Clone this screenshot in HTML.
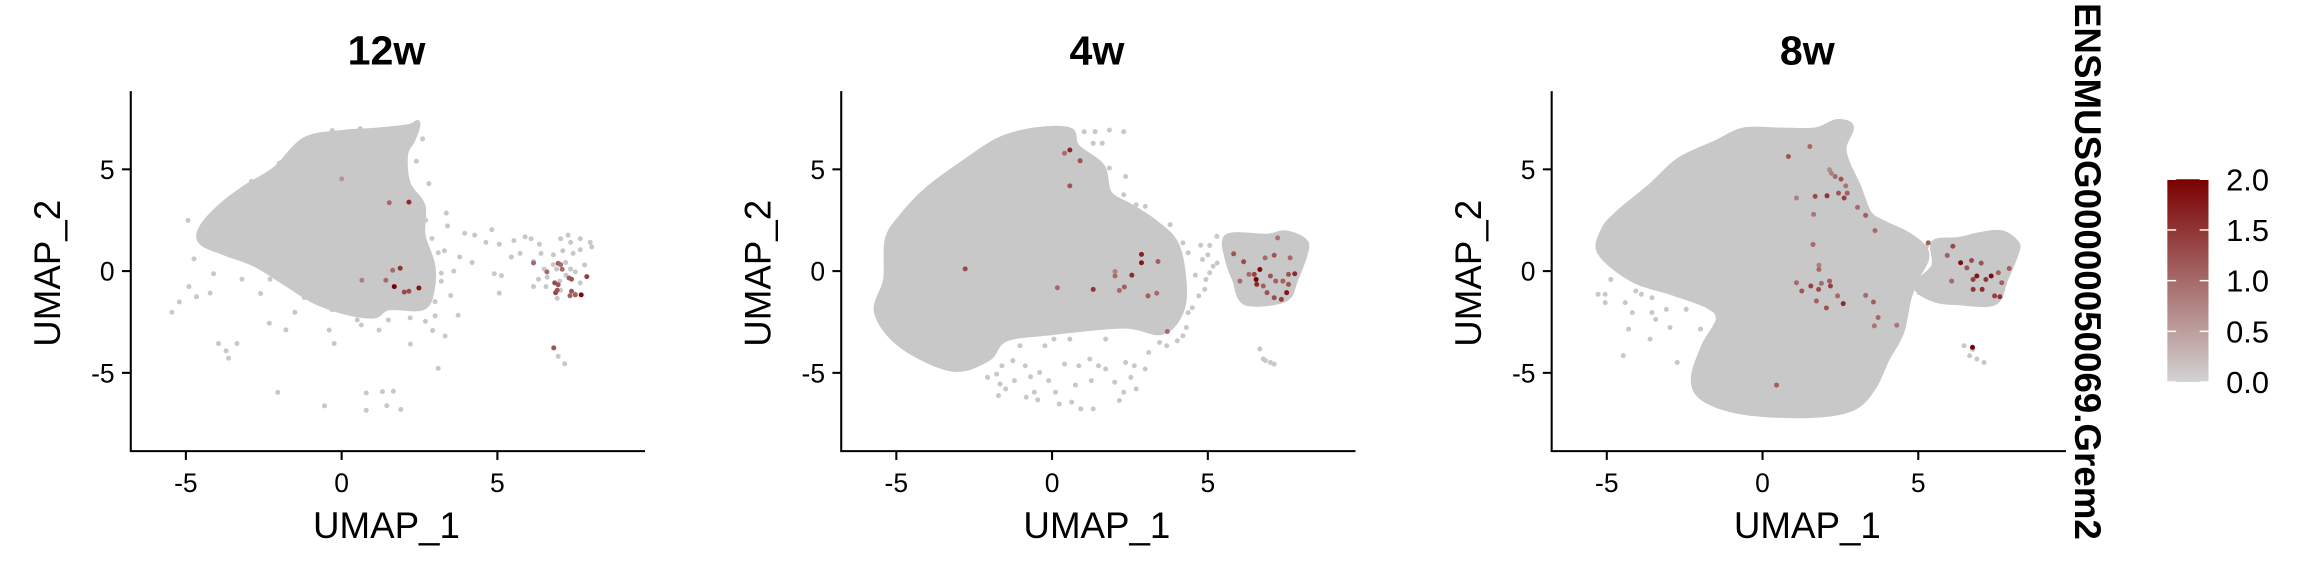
<!DOCTYPE html>
<html><head><meta charset="utf-8"><style>
html,body{margin:0;padding:0;background:#fff;}
svg{display:block;font-family:"Liberation Sans",Arial,sans-serif;}
</style></head><body>
<svg id="chart" width="2304" height="576" viewBox="0 0 1568 392" preserveAspectRatio="none" xmlns="http://www.w3.org/2000/svg">
<defs><linearGradient id="grad" x1="0" y1="1" x2="0" y2="0"><stop offset="0" stop-color="#d3d3d3"/><stop offset="1" stop-color="#7a0000"/></linearGradient></defs>
<g id="panels"></g>
<g>
<text transform="translate(1412,2) rotate(90)" font-size="25" font-weight="bold" fill="#000">ENSMUSG00000050069.Grem2</text>
<rect x="1475" y="122" width="28" height="138" fill="url(#grad)"/>
<g id="legendTicks"></g>
</g>
</svg>
<script>
const NS="http://www.w3.org/2000/svg";
const panelTitles=["12w","4w","8w"];
const panelOffsets=[0,483.5,967];
const xTicks=[-5,0,5];
const yTicks=[-5,0,5];
const legendValues=[0.0,0.5,1.0,1.5,2.0];
const legendLabels=["0.0","0.5","1.0","1.5","2.0"];

const p1Outline=[[-4.5,2.13],[-3.87,3.21],[-3.08,4.12],[-2.13,5.02],[-1.18,6.46],[0.08,6.82],[1.03,6.91],[2.13,7.09],[2.45,7.27],[2.29,6.46],[2.05,5.74],[2.13,4.3],[2.61,3.21],[2.61,1.77],[2.92,0.32],[2.9,-0.94],[2.6,-1.8],[1.5,-1.8],[1.03,-2.2],[0.08,-2.0],[-0.87,-1.48],[-1.82,-0.58],[-2.76,0.32],[-3.71,0.87],[-4.5,1.41]];
const p1Grey=[[-5.45,-2.02],[-5.21,-1.52],[-4.93,2.49],[-4.74,0.6],[-4.66,-1.26],[-4.22,-1.08],[-4.9,-0.76],[-4.11,-0.13],[-3.95,-3.56],[-3.71,-3.92],[-3.63,-4.28],[-3.36,-3.56],[-2.32,-2.56],[-2.05,-5.96],[-1.79,-2.89],[-1.5,-2.02],[-0.55,-6.62],[-0.24,-3.56],[0.63,-2.65],[0.79,-5.99],[0.79,-6.84],[1.31,-5.92],[1.45,-6.61],[1.66,-5.9],[1.9,-6.8],[2.21,-3.59],[2.69,-2.47],[2.92,-2.92],[3.0,-2.2],[3.1,-4.78],[3.32,-3.19],[3.36,2.85],[3.4,2.22],[3.74,-2.17],[3.95,1.86],[4.27,1.77],[3.79,0.69],[4.19,0.42],[4.63,1.41],[4.9,-0.13],[5.06,-1.08],[5.13,-0.22],[5.06,1.32],[5.53,1.5],[5.89,1.68],[6.08,1.59],[5.73,0.87],[6.35,1.32],[6.4,0.87],[6.16,0.47],[7.03,1.59],[7.35,1.41],[7.66,1.59],[7.98,1.41],[8.03,1.19],[7.43,0.87],[7.19,0.42],[7.5,-0.04],[6.79,0.32],[6.32,-0.4],[6.16,-0.76],[6.56,-0.76],[7.03,-0.94],[7.66,-0.58],[7.5,-1.12],[6.92,-1.34],[6.95,-4.19],[7.16,-4.55],[7.66,1.05],[7.27,1.77],[5.45,0.69],[4.82,2.04],[6.9,0.1],[7.2,-0.2],[6.6,-0.3],[7.0,-0.5],[7.35,0.1],[6.5,0.1],[7.8,0.3],[7.1,1.0],[6.8,0.8],[3.5,-1.2],[3.2,-0.5],[3.6,0.0],[-2.6,-1.1],[-3.2,-0.4],[-0.4,-2.9],[1.2,-2.9],[3.3,1.0],[-3.9,1.2],[-4.3,1.8],[-3.5,2.9],[-2.9,4.4],[-2.0,5.3],[-1.4,6.0],[2.7,2.5],[2.9,1.6],[3.1,0.9],[3.2,-0.1],[3.0,-1.5],[2.2,-2.3],[1.5,-2.4],[0.5,-2.4],[-0.3,-1.9],[-1.2,-1.3],[-2.3,-0.4],[2.6,6.5],[2.4,5.4],[2.8,4.3],[-0.3,6.9],[0.6,7.0]];
const p1Red=[[0,4.53,0.6],[1.53,3.36,1.0],[2.16,3.39,1.6],[1.88,0.14,1.5],[1.64,0.04,1.0],[0.65,-0.45,0.8],[1.42,-0.45,1.0],[1.69,-0.76,2.0],[2.01,-1.03,1.3],[2.16,-0.99,1.3],[2.48,-0.83,1.8],[6.16,0.4,1.0],[6.59,-0.04,1.0],[6.95,0.38,1.1],[7.03,0.32,1.0],[7.08,0.09,1.0],[6.84,-0.58,1.3],[6.95,-0.67,1.2],[6.87,-1.06,1.4],[6.92,-0.94,1.2],[7.3,-0.34,1.1],[7.38,-0.4,1.2],[7.87,-0.27,1.4],[7.38,-0.99,1.2],[7.33,-1.21,1.1],[7.5,-1.17,1.1],[7.69,-1.17,1.9],[6.81,-3.77,1.2]];

const p2Outline=[[-0.57,6.93],[0.57,6.93],[0.8,6.12],[1.61,5.14],[1.84,3.83],[2.53,3.18],[3.33,2.37],[4.02,1.22],[4.25,-1.06],[4.02,-2.37],[3.45,-3.02],[2.3,-2.69],[0,-3.02],[-1.49,-3.34],[-2.07,-4.32],[-3.22,-4.81],[-4.83,-3.67],[-5.63,-2.04],[-5.34,-0.41],[-5.29,1.55],[-4.83,2.69],[-4.02,4.0],[-2.87,5.3],[-1.72,6.44]];
const p2Cluster=[[5.63,1.71],[6.9,1.71],[7.47,1.88],[8.05,1.55],[8.16,1.06],[7.82,-0.41],[7.47,-1.39],[6.21,-1.55],[5.86,-0.41],[5.63,0.57]];
const p2Grey=[[-2.07,-5.22],[-1.78,-5.06],[-1.72,-6.12],[-1.67,-5.55],[-1.61,-4.65],[-1.49,-5.79],[-1.26,-4.4],[-1.21,-5.38],[-1.03,-3.67],[-0.86,-4.65],[-0.83,-6.2],[-0.69,-5.19],[-0.57,-5.95],[-0.46,-6.33],[-0.4,-4.98],[-0.23,-3.67],[-0.11,-5.38],[0.06,-3.34],[0.11,-5.95],[0.23,-6.53],[0.4,-4.57],[0.57,-3.34],[0.63,-6.44],[0.75,-5.6],[0.86,-4.65],[0.92,-6.77],[1.21,-4.32],[1.26,-5.38],[1.32,-6.77],[1.49,-4.65],[1.72,-4.81],[1.72,-3.34],[2.01,-5.46],[2.16,-6.36],[2.3,-5.95],[2.36,-4.49],[2.53,-5.22],[2.64,-4.65],[2.7,-5.79],[2.99,-4.81],[3.1,-4.0],[3.45,-3.51],[3.68,-3.67],[4.02,-3.43],[4.2,-3.18],[4.31,-2.77],[4.37,-2.04],[4.71,-1.22],[4.94,-0.41],[5.06,-0.08],[5.17,0.24],[4.83,0.57],[4.77,1.27],[5.06,1.26],[5.29,1.71],[5.86,1.71],[6.67,-3.83],[6.78,-4.32],[7.01,-4.49],[7.13,-4.57],[6.85,-4.4],[1.03,6.85],[1.38,6.85],[1.84,6.93],[2.3,6.85],[1.32,6.28],[1.61,6.28],[1.84,5.06],[2.36,4.65],[2.3,3.75],[2.7,3.26],[2.99,3.18],[3.33,2.2],[3.79,2.28],[4.2,1.39],[4.37,0.9],[4.6,-0.2],[4.5,-1.8],[5.0,0.8],[4.9,-0.9],[5.3,0.4]];
const p2Red=[[0.57,5.95,1.6],[0.4,5.79,1.0],[0.9,5.42,1.2],[0.57,4.19,1.2],[-2.79,0.11,1.3],[0.17,-0.82,1.0],[1.32,-0.9,1.5],[2.02,-0.24,1.0],[2.02,-0.02,0.8],[2.56,-0.2,1.6],[2.87,0.82,1.7],[2.87,0.41,1.8],[3.4,0.47,1.1],[2.16,-0.95,1.0],[2.32,-0.78,1.1],[3.08,-1.22,1.1],[3.36,-1.09,1.0],[3.7,-2.97,1.0],[5.83,0.85,1.2],[6.15,0.46,1.3],[6.84,0.65,1.0],[7.13,0.78,1.2],[7.64,0.65,1.0],[7.24,1.63,0.9],[6.67,0.08,1.9],[6.55,-0.41,2.0],[6.57,-0.65,1.6],[6.49,-0.16,1.4],[7.01,-0.24,1.2],[7.18,-0.49,1.1],[7.41,-0.49,1.1],[7.59,-0.16,1.2],[7.79,-0.13,1.6],[6.9,-1.06,1.2],[7.13,-1.31,1.3],[7.36,-1.39,1.4],[7.53,-1.06,1.8],[6.78,-0.73,1.1],[6.32,-0.16,1.0],[6.03,-0.49,1.0],[7.59,-0.65,1.2]];

const p3Outline=[[-5.1,2.04],[-5.22,0.9],[-4.18,-0.41],[-2.91,-1.06],[-1.76,-1.71],[-1.42,-2.37],[-1.88,-3.67],[-2.22,-5.3],[-1.88,-6.28],[-0.61,-6.93],[1.46,-7.1],[2.85,-6.77],[3.54,-5.79],[4.0,-4.32],[4.46,-3.02],[4.69,-1.39],[4.92,-0.41],[5.26,0.57],[5.15,1.22],[4.57,1.88],[3.88,2.37],[3.42,2.85],[3.08,4.16],[2.73,5.3],[2.62,6.12],[2.85,7.1],[2.38,7.34],[1.69,6.93],[0.54,6.93],[-0.61,6.93],[-1.53,6.28],[-2.68,5.46],[-3.61,4.16],[-4.64,2.85]];
const p3Cluster=[[5.5,1.39],[6.3,1.55],[6.99,1.79],[7.68,1.88],[8.15,1.39],[8.15,0.9],[7.8,-0.41],[7.45,-1.55],[6.3,-1.55],[5.5,-1.39],[4.92,-0.73],[5.5,0.24]];
const p3Grey=[[-5.28,-1.14],[-5.05,-1.14],[-5.05,-1.55],[-4.87,-0.41],[-4.41,-1.55],[-4.18,-2.04],[-4.47,-4.16],[-4.3,-2.85],[-4.07,-0.98],[-3.89,-1.14],[-3.55,-1.31],[-3.55,-2.04],[-3.43,-2.37],[-3.26,-0.9],[-3.09,-1.88],[-2.97,-2.77],[-2.74,-4.49],[-2.45,-1.88],[-2.39,-0.9],[-2.11,-1.22],[-1.76,-0.73],[-3.61,-3.34],[-1.99,-2.85],[5.26,1.22],[4.92,0.24],[5.03,-1.06],[5.2,-0.5],[5.4,-1.0],[6.47,-3.67],[6.65,-4.16],[6.88,-4.32],[7.11,-4.49],[6.75,-3.85]];
const p3Red=[[0.83,5.63,1.2],[1.52,6.12,1.0],[2.15,4.98,0.7],[2.21,4.81,0.8],[2.33,4.65,1.0],[2.52,4.52,1.2],[2.67,4.19,0.9],[2.72,3.83,1.1],[2.62,3.59,1.4],[2.44,3.83,1.2],[2.07,3.7,1.5],[1.69,3.67,1.3],[1.09,3.59,0.8],[3.05,3.13,1.0],[3.31,2.74,1.1],[3.61,1.99,1.0],[1.64,2.79,0.9],[1.62,1.31,1.0],[1.81,0.29,0.8],[1.81,0.08,1.0],[1.09,-0.57,1.0],[1.26,-0.98,1.2],[1.55,-0.73,1.4],[1.8,-0.9,1.3],[1.89,-0.6,1.0],[2.15,-0.49,1.1],[2.18,-0.73,1.4],[1.73,-1.47,1.1],[2.05,-1.81,1.2],[2.41,-1.22,1.0],[2.59,-1.6,1.6],[3.31,-1.19,1.0],[3.56,-1.52,1.1],[3.71,-2.28,1.0],[3.59,-2.69,0.9],[4.31,-2.66,0.9],[0.45,-5.6,1.1],[5.32,1.39,1.1],[6.11,1.22,1.3],[5.93,0.77,1.1],[6.36,0.41,1.9],[6.71,0.52,1.3],[7.02,0.39,1.2],[6.88,-0.24,1.8],[6.76,-0.41,1.4],[7.17,-0.41,1.5],[7.34,-0.24,1.9],[7.57,-0.08,1.1],[7.92,0.13,1.1],[6.76,-0.9,1.5],[7.05,-0.9,1.6],[7.45,-1.22,1.4],[7.62,-1.26,1.5],[6.07,-0.49,1.0],[6.56,0.16,1.2],[6.74,-3.75,2.0],[7.68,-0.57,1.1]];

const panelOutlines=[[p1Outline],[p2Outline,p2Cluster],[p3Outline,p3Cluster]];
const panelGrey=[p1Grey,p2Grey,p3Grey];
const panelRed=[p1Red,p2Red,p3Red];

const X0=232.5, XS=21.2, Y0=184.5, YS=13.85;
function sx(p,v){return X0+panelOffsets[p]+XS*v;}
function sy(v){return Y0-YS*v;}
function col(v){const t=Math.max(0,Math.min(1,v/2));
 const r=Math.round(211+(122-211)*t),g=Math.round(211*(1-t)),b=Math.round(211*(1-t));
 return `rgb(${r},${g},${b})`;}
function mk(tag,attrs,parent){const e=document.createElementNS(NS,tag);for(const k in attrs)e.setAttribute(k,attrs[k]);parent.appendChild(e);return e;}
function smoothPath(pts){
 const n=pts.length;let d=`M${pts[0][0].toFixed(1)},${pts[0][1].toFixed(1)}`;
 for(let i=0;i<n;i++){
  const p0=pts[(i-1+n)%n],p1=pts[i],p2=pts[(i+1)%n],p3=pts[(i+2)%n];
  const c1x=p1[0]+(p2[0]-p0[0])/6,c1y=p1[1]+(p2[1]-p0[1])/6;
  const c2x=p2[0]-(p3[0]-p1[0])/6,c2y=p2[1]-(p3[1]-p1[1])/6;
  d+=` C${c1x.toFixed(1)},${c1y.toFixed(1)} ${c2x.toFixed(1)},${c2y.toFixed(1)} ${p2[0].toFixed(1)},${p2[1].toFixed(1)}`;
 }
 return d+'Z';
}

const root=document.getElementById('panels');
panelTitles.forEach((title,p)=>{
 const g=mk('g',{},root);
 
 
 const off=panelOffsets[p];
 const t=mk('text',{x:263+off,y:44,'text-anchor':'middle','font-size':28,'font-weight':'bold'},g);
 t.textContent=title;
 
 
 panelOutlines[p].forEach(poly=>{
  const pts=poly.map(d=>[sx(p,d[0]),sy(d[1])]);
  const pg=mk('path',{d:smoothPath(pts),fill:'#c8c8c8',stroke:'#c8c8c8','stroke-width':3.5,'stroke-linejoin':'round'},g);
  
  
 });
 panelGrey[p].forEach(d=>{
  const c=mk('circle',{cx:sx(p,d[0]),cy:sy(d[1]),r:1.7,fill:'#c8c8c8'},g);
  
  
 });
 panelRed[p].forEach(d=>{
  const c=mk('circle',{cx:sx(p,d[0]),cy:sy(d[1]),r:1.7,fill:col(d[2])},g);
  
  
 });
 const ax=mk('path',{d:`M${89+off},62 V307 H${439+off}`,fill:'none',stroke:'#000','stroke-width':1.4},g);
 
 
 xTicks.forEach(v=>{
  const x=sx(p,v);
  const l=mk('line',{x1:x,x2:x,y1:307,y2:313,stroke:'#000','stroke-width':1.4},g);
  
  
  const tx=mk('text',{x:x,y:335,'text-anchor':'middle','font-size':18},g);
  tx.textContent=String(v);
  
  
 });
 yTicks.forEach(v=>{
  const y=sy(v);
  const l=mk('line',{x1:83+off,x2:89+off,y1:y,y2:y,stroke:'#000','stroke-width':1.4},g);
  
  
  const tx=mk('text',{x:78+off,y:y+6.5,'text-anchor':'end','font-size':18},g);
  tx.textContent=String(v);
  
  
 });
 const xt=mk('text',{x:263+off,y:366,'text-anchor':'middle','font-size':25},g);
 xt.textContent='UMAP_1';
 
 
 const yt=mk('text',{transform:`translate(${41+off},186) rotate(-90)`,'text-anchor':'middle','font-size':25},g);
 yt.textContent='UMAP_2';
 
 
});

const lt=document.getElementById('legendTicks');
legendValues.forEach((v,i)=>{
 const y=260-138*(v/2);
 const a=mk('line',{x1:1475,x2:1481,y1:y,y2:y,stroke:'#fff','stroke-width':1},lt);
 
 
 const b=mk('line',{x1:1497,x2:1503,y1:y,y2:y,stroke:'#fff','stroke-width':1},lt);
 
 
 const t=mk('text',{x:1515,y:y+7.5,'font-size':21},lt);
 t.textContent=legendLabels[i];
 
 
});
</script>
</body></html>
